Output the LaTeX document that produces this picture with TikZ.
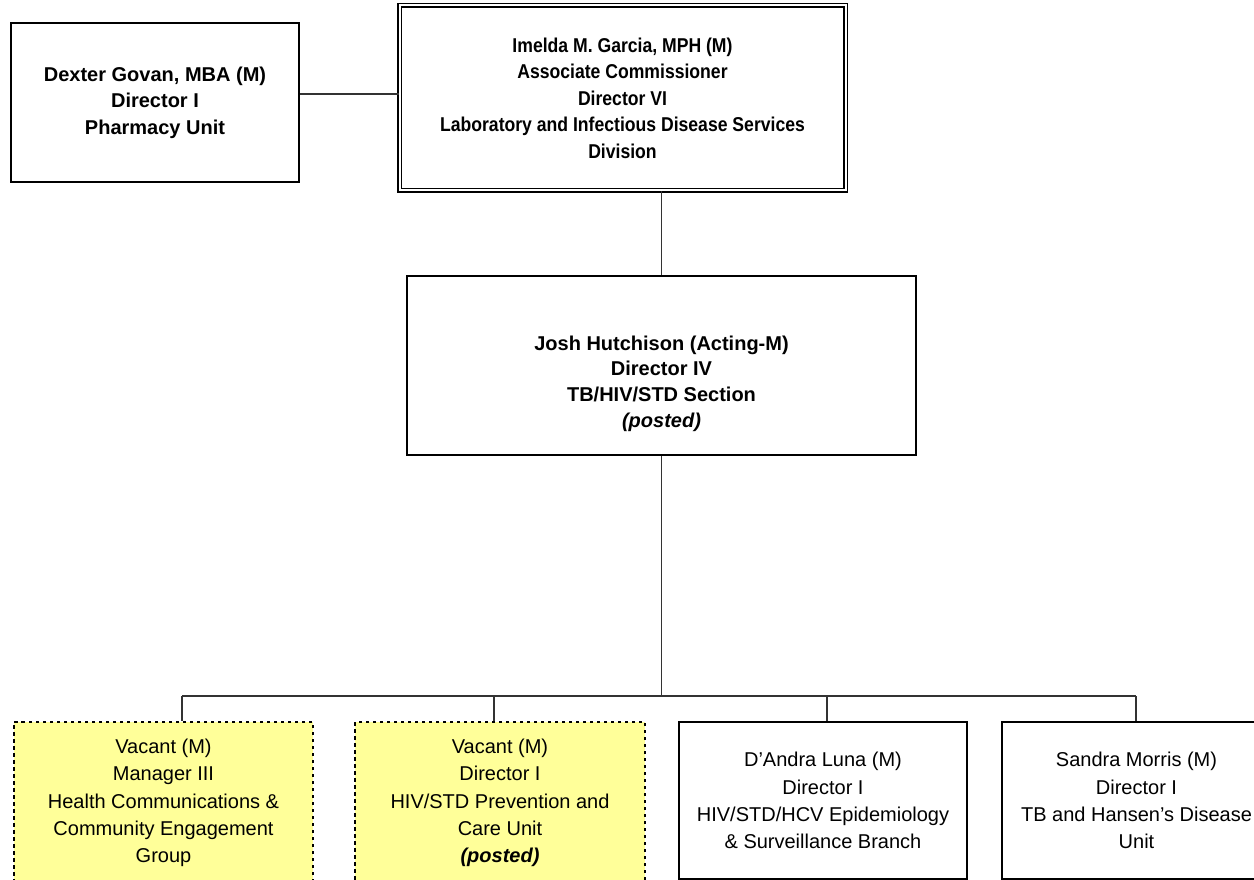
\documentclass[tikz,border=0pt]{standalone}
\usepackage{fontspec}
\setmainfont{Liberation Sans}
\newfontfamily\condfont{Liberation Sans}[FakeStretch=0.88]
\definecolor{vacantyellow}{HTML}{FFFF99}
\begin{document}
\begin{tikzpicture}[x=1pt,y=-1pt,
  box/.style={draw=black, line width=1.8pt, rectangle, inner sep=0pt, align=center,
              font=\fontsize{20}{26.5}\selectfont},
  unitbox/.style={box, font=\fontsize{20}{27.3}\selectfont},
  lbl/.style={align=center, font=\fontsize{20}{25.7}\selectfont, inner sep=0pt},
  conn/.style={draw=black!80, line width=1.1pt},
  vacant/.style={unitbox, fill=vacantyellow, dash pattern=on 3.5pt off 3.5pt}]
\useasboundingbox (0,0) rectangle (1254,880);

% top level
\node[box, minimum width=288pt, minimum height=159pt] (dex) at (155,102.5)
  {\bfseries Dexter Govan, MBA (M)\\\bfseries Director I\\\bfseries Pharmacy Unit};
\node[box, double, double distance=2pt, line width=1.2pt,
      minimum width=446pt, minimum height=185pt] (top) at (622.5,98)
  {\condfont\bfseries Imelda M. Garcia, MPH (M)\\\condfont\bfseries Associate Commissioner\\
   \condfont\bfseries Director VI\\\condfont\bfseries Laboratory and Infectious Disease Services\\
   \condfont\bfseries Division};

% section
\node[box, minimum width=509pt, minimum height=179pt] (mid) at (661.5,365.5) {};
\node[lbl] (midtxt) at (661.5,383.5)
  {\bfseries Josh Hutchison (Acting-M)\\\bfseries Director IV\\\bfseries TB/HIV/STD Section\\
   \bfseries\itshape (posted)};

% units
\node[vacant, minimum width=299pt, minimum height=162pt] (b1) at (163.5,803)
  {Vacant (M)\\Manager III\\Health Communications \&\\Community Engagement\\Group};
\node[vacant, minimum width=290pt, minimum height=162pt] (b2) at (500,803)
  {Vacant (M)\\Director I\\HIV/STD Prevention and\\Care Unit\\\bfseries\itshape (posted)};
\node[unitbox, minimum width=288pt, minimum height=157pt] (b3) at (823,800.5)
  {D’Andra Luna (M)\\Director I\\HIV/STD/HCV Epidemiology\\\& Surveillance Branch};
\node[unitbox, minimum width=269pt, minimum height=157pt] (b4) at (1136.5,800.5)
  {Sandra Morris (M)\\Director I\\TB and Hansen’s Disease\\Unit};

% bus coordinates
\coordinate (d1) at (182,696);
\coordinate (d2) at (494,696);
\coordinate (d3) at (827,696);
\coordinate (d4) at (1136,696);

% connectors
\draw[conn] ([yshift=8.5pt]dex.east) -- ([yshift=8.5pt]dex.east -| top.west);
\draw[conn] (top.south -| mid.north) -- (mid.north);
\draw[conn] (mid.south) -- (mid.south |- d1);
\draw[conn] (d1) -- (d4);
\draw[conn] (d1) -- (d1 |- b1.north);
\draw[conn] (d2) -- (d2 |- b2.north);
\draw[conn] (d3) -- (d3 |- b3.north);
\draw[conn] (d4) -- (d4 |- b4.north);
\end{tikzpicture}
\end{document}
